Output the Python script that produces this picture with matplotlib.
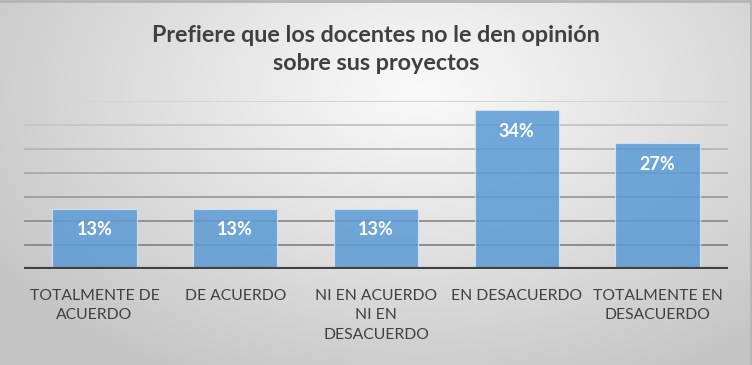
import numpy as np
import matplotlib
matplotlib.use("Agg")
from matplotlib import pyplot as plt
from matplotlib.colors import LinearSegmentedColormap

# data
categories = ["TOTALMENTE DE\nACUERDO", "DE ACUERDO", "NI EN ACUERDO\nNI EN\nDESACUERDO",
              "EN DESACUERDO", "TOTALMENTE EN\nDESACUERDO"]
values = [0.13, 0.13, 0.13, 0.34, 0.27]
labels = ["13%", "13%", "13%", "34%", "27%"]
title = "Prefiere que los docentes no le den opinión\nsobre sus proyectos"

fonts = ["Lato", "DejaVu Sans"]

fig = plt.figure(figsize=(7.52, 3.65), dpi=100)

# radial gray background
bg = fig.add_axes([0, 0, 1, 1])
yy, xx = np.mgrid[0:365, 0:752]
r = np.sqrt(((xx - 420) / 520.0) ** 2 + ((yy - 90) / 330.0) ** 2)
r = np.clip(r, 0, 1)
cmap = LinearSegmentedColormap.from_list("bg", ["#fafafa", "#e0e0e0", "#c4c4c4"])
bg.imshow(r, cmap=cmap, aspect="auto", extent=[0, 752, 365, 0], vmin=0, vmax=1)
bg.plot([0, 752], [1, 1], color="#b5b5b5", lw=2)
bg.plot([751, 751], [0, 365], color="#b5b5b5", lw=2)
bg.set_xlim(0, 752)
bg.set_ylim(365, 0)
bg.axis("off")

ax = fig.add_axes([0.032, 0.262, 0.936, 0.461])
ax.patch.set_alpha(0)
ymax = 0.36
ax.set_ylim(0, ymax)
ax.set_xlim(-0.5, len(categories) - 0.5)

# gridlines get darker toward the bottom
grid_levels = np.linspace(0, ymax, 8)[1:]
grid_cols = ["#8c8c8c", "#939393", "#a0a0a0", "#acacac", "#b8b8b8", "#c6c6c6", "#d4d4d4"]
for g, c in zip(grid_levels, grid_cols):
    ax.axhline(g, color=c, lw=1.4, zorder=1)

x = np.arange(len(categories))
bars = ax.bar(x, values, width=0.6, color="#5b9bd5", alpha=0.85,
              edgecolor="#d6e6f5", linewidth=0.8, zorder=2)

for b, lab in zip(bars, labels):
    ax.annotate(lab, (b.get_x() + b.get_width() / 2, b.get_height()),
                xytext=(0, -21), textcoords="offset pixels",
                ha="center", va="center", color="white", fontsize=13,
                fontweight="bold", family=fonts, zorder=3)

ax.axhline(0, color="#404040", lw=3, zorder=4)

for s in ax.spines.values():
    s.set_visible(False)
ax.set_yticks([])
ax.set_xticks(x)
ax.set_xticklabels(categories, fontsize=11.3, color="#404040", family=fonts,
                   linespacing=1.5, va="top")
ax.tick_params(axis="x", length=0, pad=14)

fig.text(0.5, 0.865, title, ha="center", va="center", fontsize=16.8,
         fontweight="bold", color="#404040", family=fonts, linespacing=1.42)

fig.savefig("out.png", dpi=100)
